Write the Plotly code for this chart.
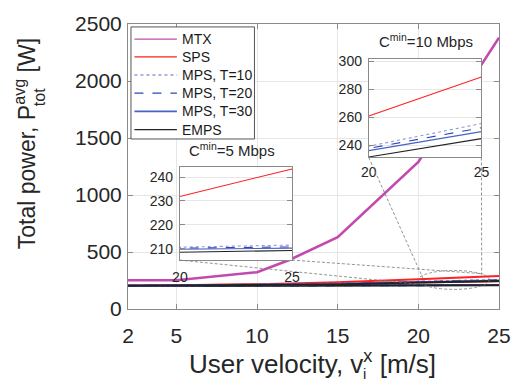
import plotly.graph_objects as go

# ---------------- data ----------------
velocity = [2, 5, 10, 12, 15, 20, 25]

mtx = [252, 252, 323, 430, 630, 1290, 2380]

# Cmin = 5 Mbps
sps_5 = [203, 206, 212, 215, 221, 231.9, 243.4]
mps10_5 = [203, 204, 206, 207, 208.5, 210.7, 211.6]
mps20_5 = [203, 204, 205.5, 206.5, 208, 210.3, 210.8]
mps30_5 = [203, 203.5, 205, 206, 207.5, 209.8, 210.3]
emps_5 = [202, 203, 204.5, 205.5, 207, 208.6, 209.3]

# Cmin = 10 Mbps
sps_10 = [204, 208, 218, 224, 234, 261, 288.7]
mps10_10 = [204, 206, 213, 216, 222, 239.5, 255.6]
mps20_10 = [204, 206, 212, 215, 221, 238, 252.6]
mps30_10 = [203.5, 205.5, 211, 214, 220, 236.4, 249.9]
emps_10 = [203, 205, 209, 211.5, 216, 231.8, 244.9]

series_names = ["MTX", "SPS", "MPS, T=10", "MPS, T=20", "MPS, T=30", "EMPS"]
x_ticks = [2, 5, 10, 15, 20, 25]
y_ticks = [0, 500, 1000, 1500, 2000, 2500]
inset1_yticks = [210, 220, 230, 240]
inset2_yticks = [240, 260, 280, 300]
inset_xticks = [20, 25]

# ---------------- styles ----------------
FONT = "Liberation Sans, Arial, Helvetica, sans-serif"
C_MTX = "#c24aae"
C_SPS = "#ff2020"
C_M10 = "#8e9ad8"
C_M20 = "#2f45b5"
C_M30 = "#4a62c6"
C_EMPS = "#222222"
AX = "#8a8a8a"
GRID = "#e6e6e6"
TXT = "#262626"

styles = {
    "MTX": dict(color=C_MTX, dash="solid"),
    "SPS": dict(color=C_SPS, dash="solid"),
    "MPS, T=10": dict(color=C_M10, dash="dot"),
    "MPS, T=20": dict(color=C_M20, dash="dash"),
    "MPS, T=30": dict(color=C_M30, dash="solid"),
    "EMPS": dict(color=C_EMPS, dash="solid"),
}

fig = go.Figure()

group5 = [("SPS", sps_5), ("MPS, T=10", mps10_5), ("MPS, T=20", mps20_5),
          ("MPS, T=30", mps30_5), ("EMPS", emps_5)]
group10 = [("SPS", sps_10), ("MPS, T=10", mps10_10), ("MPS, T=20", mps20_10),
           ("MPS, T=30", mps30_10), ("EMPS", emps_10)]

# main plot
for n, vals in group5 + group10:
    s = styles[n]
    fig.add_trace(go.Scatter(x=velocity, y=vals, mode="lines", name=n, showlegend=False,
                             line=dict(color=s["color"], dash=s["dash"], width=2),
                             xaxis="x", yaxis="y"))
fig.add_trace(go.Scatter(x=velocity, y=mtx, mode="lines", name="MTX", showlegend=False,
                         line=dict(color=C_MTX, width=2.6), xaxis="x", yaxis="y"))

# insets
for n, vals in group5:
    s = styles[n]
    fig.add_trace(go.Scatter(x=velocity, y=vals, mode="lines", name=n, showlegend=False,
                             line=dict(color=s["color"], dash=s["dash"], width=1.1),
                             xaxis="x2", yaxis="y2"))
for n, vals in group10:
    s = styles[n]
    fig.add_trace(go.Scatter(x=velocity, y=vals, mode="lines", name=n, showlegend=False,
                             line=dict(color=s["color"], dash=s["dash"], width=1.1),
                             xaxis="x3", yaxis="y3"))

# ---------------- layout ----------------
W, H = 523, 385
L, R, T, B = 128, 19.5, 17, 75.5
pw, ph = W - L - R, H - T - B


def px2paper(px, py):
    return (px - L) / pw, (H - B - py) / ph


i1x0, i1y0 = px2paper(180.5, 259.3)
i1x1, i1y1 = px2paper(294, 163.3)
i2x0, i2y0 = px2paper(371.7, 154)
i2x1, i2y1 = px2paper(485.7, 53.3)

common_axis = dict(showline=True, linecolor=AX, linewidth=1, mirror="ticks",
                   ticks="inside", ticklen=5, tickcolor=AX, showgrid=True,
                   gridcolor=GRID, gridwidth=1, zeroline=False)

fig.update_layout(
    width=W, height=H,
    margin=dict(l=L, r=R, t=T, b=B, pad=0),
    paper_bgcolor="white", plot_bgcolor="white",
    font=dict(family=FONT, color=TXT),
    showlegend=False,
    xaxis=dict(common_axis, domain=[0, 1], anchor="y", range=[2, 25], tickvals=x_ticks,
               tickfont=dict(size=21), ticklabelstandoff=8),
    yaxis=dict(common_axis, domain=[0, 1], anchor="x", range=[0, 2500], tickvals=y_ticks,
               tickfont=dict(size=21), ticklabelstandoff=1),
    xaxis2=dict(common_axis, domain=[i1x0, i1x1], anchor="y2", range=[20, 25],
                tickvals=inset_xticks, tickfont=dict(size=14), ticklabelstandoff=4,
                showgrid=False),
    yaxis2=dict(common_axis, domain=[i1y0, i1y1], anchor="x2", range=[205.3, 244.4],
                tickvals=inset1_yticks, tickfont=dict(size=14), ticklabelstandoff=3),
    xaxis3=dict(common_axis, domain=[i2x0, i2x1], anchor="y3", range=[20, 25],
                tickvals=inset_xticks, tickfont=dict(size=14), ticklabelstandoff=2,
                showgrid=False),
    yaxis3=dict(common_axis, domain=[i2y0, i2y1], anchor="x3", range=[231.5, 301.2],
                tickvals=inset2_yticks, tickfont=dict(size=14), ticklabelstandoff=3),
)

# ---- axis titles (superscript in text, subscript stacked underneath) ----
xt_x, xt_y = px2paper(188, 364)
fig.add_annotation(x=xt_x, y=xt_y, xref="paper", yref="paper", showarrow=False,
                   xanchor="left", yanchor="middle",
                   text="User velocity, v<sup>x</sup> [m/s]",
                   font=dict(size=26, color=TXT))
xs_x, xs_y = px2paper(367, 385)
fig.add_annotation(x=xs_x, y=xs_y, xref="paper", yref="paper", showarrow=False,
                   xanchor="center", yanchor="bottom", text="i", borderpad=0,
                   font=dict(size=15, color=TXT))

yt_x, yt_y = px2paper(23.5, 250)
fig.add_annotation(x=yt_x, y=yt_y, xref="paper", yref="paper", showarrow=False,
                   xanchor="center", yanchor="bottom", textangle=-90,
                   text="Total power, P<sup>avg</sup> [W]",
                   font=dict(size=23, color=TXT))
ys_x, ys_y = px2paper(38, 92)
fig.add_annotation(x=ys_x, y=ys_y, xref="paper", yref="paper", showarrow=False,
                   xanchor="center", yanchor="middle", textangle=-90, text="tot",
                   font=dict(size=16, color=TXT))

# ---- legend (box, samples, labels) ----
lx0, ly0 = px2paper(131, 20)
lx1, ly1 = px2paper(256, 135)
fig.add_shape(type="rect", xref="paper", yref="paper", x0=lx0, y0=ly1, x1=lx1, y1=ly0,
              line=dict(color="#555", width=1), fillcolor="white", layer="above")
legend_y = [32.5, 50.8, 69.3, 88, 106.7, 125.5]
legend_width = {"MTX": 1.2, "SPS": 1.2, "MPS, T=10": 1.4, "MPS, T=20": 1.2,
                "MPS, T=30": 1.6, "EMPS": 1.2}
for n, yy in zip(series_names, legend_y):
    s = styles[n]
    a0, b0 = px2paper(134.5, yy)
    a1, _ = px2paper(177.5, yy)
    fig.add_shape(type="line", xref="paper", yref="paper", x0=a0, x1=a1, y0=b0, y1=b0,
                  line=dict(color=s["color"], dash=s["dash"], width=legend_width[n]),
                  layer="above")
    tx, ty = px2paper(181, yy)
    fig.add_annotation(x=tx, y=ty, xref="paper", yref="paper", showarrow=False,
                       xanchor="left", yanchor="middle", text=n,
                       font=dict(size=14, color="#1a1a1a"))

# inset titles
t1x, t1y = px2paper(233, 146)
t2x, t2y = px2paper(430, 34)
fig.add_annotation(x=t1x, y=t1y, xref="paper", yref="paper", showarrow=False,
                   xanchor="center", yanchor="middle",
                   text="C<sup>min</sup>=5 Mbps", font=dict(size=15, color=TXT))
fig.add_annotation(x=t2x, y=t2y, xref="paper", yref="paper", showarrow=False,
                   xanchor="center", yanchor="middle",
                   text="C<sup>min</sup>=10 Mbps", font=dict(size=15, color=TXT))

# zoom ellipse and connector lines
fig.add_shape(type="circle", xref="x", yref="y", x0=20, x1=24.4, y0=172, y1=338,
              line=dict(color="#777", width=0.8, dash="3px,2px"))
connectors = [
    ((180.5, 259.3), (421.7, 284)),
    ((294, 259.3), (487, 273.3)),
    ((371.7, 154), (426.5, 278)),
    ((485.7, 154), (486, 274)),
]
for (a, b) in connectors:
    ax0, ay0 = px2paper(*a)
    bx0, by0 = px2paper(*b)
    fig.add_shape(type="line", xref="paper", yref="paper", x0=ax0, y0=ay0, x1=bx0, y1=by0,
                  line=dict(color="#777", width=0.8, dash="3px,2px"))

fig.write_html("out.html")
